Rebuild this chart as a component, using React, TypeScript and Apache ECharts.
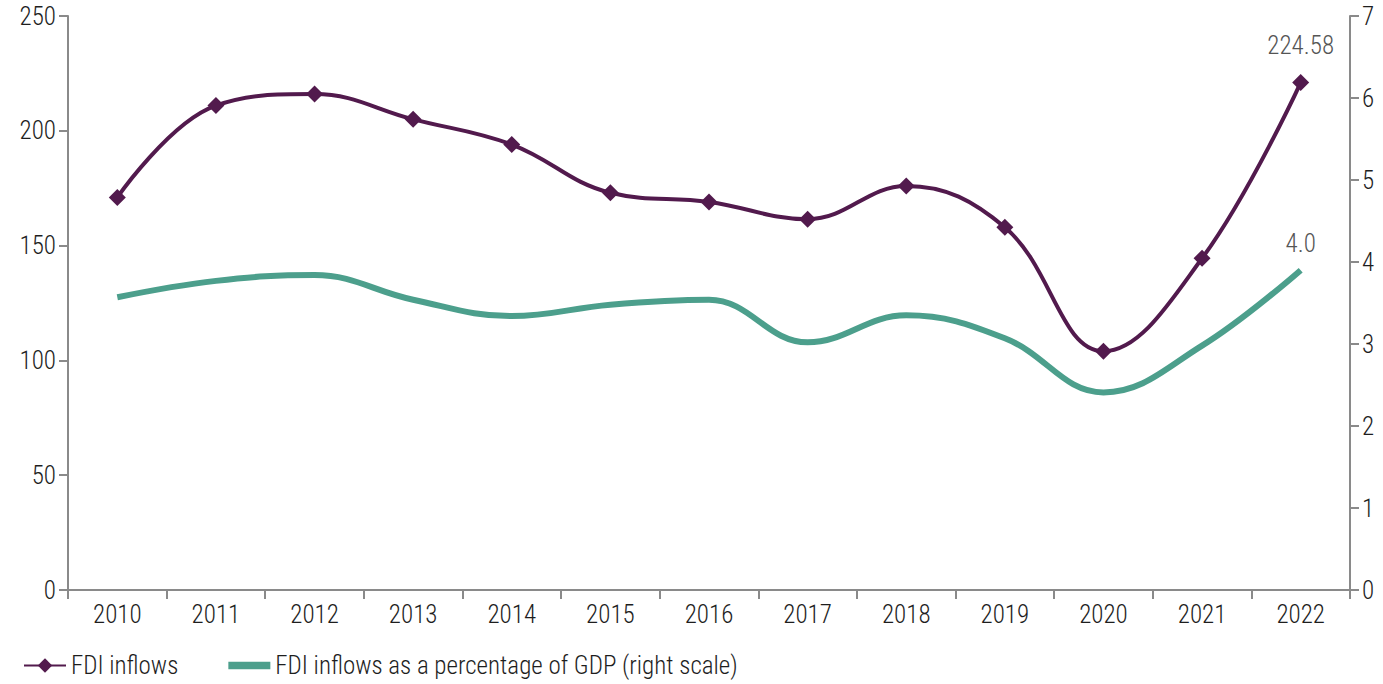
import React, { useEffect, useRef } from "react";
import * as echarts from "echarts";

const years = ["2010","2011","2012","2013","2014","2015","2016","2017","2018","2019","2020","2021","2022"];
const fdiInflows = [171, 211, 216, 205, 194, 173, 169, 161.5, 176, 158, 104, 144.5, 221];
const fdiPctGdp = [3.57, 3.77, 3.84, 3.54, 3.34, 3.48, 3.54, 3.02, 3.35, 3.07, 2.41, 2.98, 3.9];
const lastLabels = ["224.58", "4.0"];
const leftTicks = { min: 0, max: 250, interval: 50 };
const rightTicks = { min: 0, max: 7, interval: 1 };

const FONT = "'Roboto Condensed', 'Liberation Sans Narrow', 'DejaVu Sans Condensed', sans-serif";
const FS = 25;
const FW = 300;
const PURPLE = "#521a4d";
const GREEN = "#4c9f8c";
const AXIS = "#8a8a8a";

export default function App() {
  const ref = useRef<HTMLDivElement>(null);
  useEffect(() => {
    const chart = echarts.init(ref.current!, undefined, { renderer: "svg" });
    const n = years.length;
    const axisCommon = {
      axisLine: { show: true, lineStyle: { color: AXIS, width: 2 } },
      axisTick: { show: true, length: 9, lineStyle: { color: AXIS, width: 2 } },
    };
    const lbl = { fontSize: FS, fontWeight: FW, color: "#1e1e1e", fontFamily: FONT };
    chart.setOption({
      animation: false,
      textStyle: { fontFamily: FONT },
      grid: { left: 68, right: 33, top: 16, bottom: 94, containLabel: false },
      legend: {
        left: 18,
        bottom: 1,
        itemWidth: 42,
        itemHeight: 18,
        itemGap: 50,
        textStyle: { ...lbl },
        data: [
          { name: "FDI inflows" },
          { name: "FDI inflows as a percentage of GDP (right scale)", icon: "path://M0,0 H40 V7 H0 Z" },
        ],
      },
      xAxis: {
        type: "category",
        data: years,
        boundaryGap: true,
        ...axisCommon,
        axisLabel: { ...lbl, margin: 12 },
      },
      yAxis: [
        {
          type: "value",
          min: leftTicks.min,
          max: leftTicks.max,
          interval: leftTicks.interval,
          position: "left",
          splitLine: { show: false },
          ...axisCommon,
          axisLabel: { ...lbl, margin: 12 },
        },
        {
          type: "value",
          min: rightTicks.min,
          max: rightTicks.max,
          interval: rightTicks.interval,
          position: "right",
          splitLine: { show: false },
          ...axisCommon,
          axisLabel: { ...lbl, margin: 12 },
        },
      ],
      series: [
        {
          name: "FDI inflows",
          type: "line",
          yAxisIndex: 0,
          data: fdiInflows,
          smooth: 0.4,
          symbol: "diamond",
          symbolSize: 17,
          itemStyle: { color: PURPLE },
          lineStyle: { color: PURPLE, width: 4 },
          label: {
            show: true,
            position: "top",
            distance: 16,
            ...lbl,
            color: "#555",
            formatter: (p: any) => (p.dataIndex === n - 1 ? lastLabels[0] : ""),
          },
        },
        {
          name: "FDI inflows as a percentage of GDP (right scale)",
          type: "line",
          yAxisIndex: 1,
          data: fdiPctGdp,
          smooth: 0.4,
          symbol: "none",
          itemStyle: { color: GREEN },
          lineStyle: { color: GREEN, width: 6 },
          markPoint: {
            symbol: "circle",
            symbolSize: 0,
            data: [{ coord: [n - 1, fdiPctGdp[n - 1]], value: lastLabels[1] }],
            label: {
              show: true,
              position: "top",
              distance: 14,
              ...lbl,
              color: "#555",
              formatter: () => lastLabels[1],
            },
          },
        },
      ],
    });
    return () => chart.dispose();
  }, []);
  return (
    <div
      ref={ref}
      style={{ position: "absolute", left: 0, top: 0, width: 1383, height: 684 }}
    />
  );
}
